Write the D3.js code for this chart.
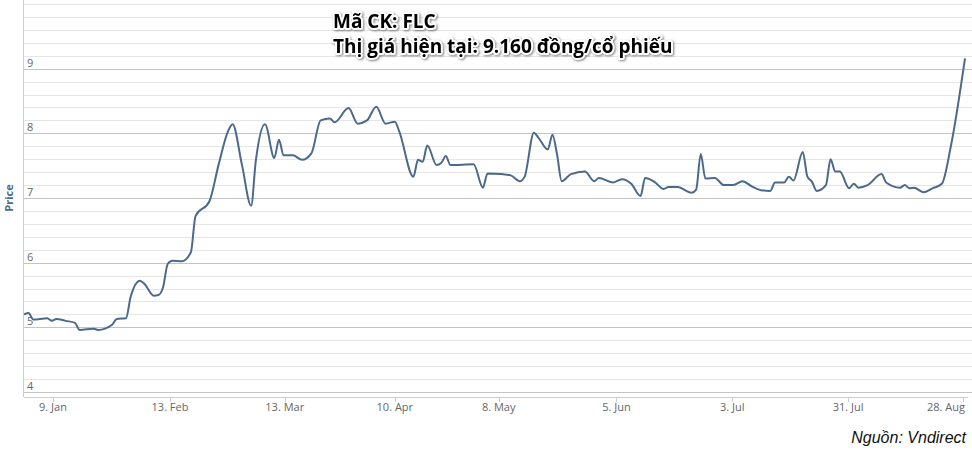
<!DOCTYPE html>
<html><head><meta charset="utf-8">
<script src="https://cdn.jsdelivr.net/npm/d3@7"></script>
<style>body{margin:0;background:#fff}svg{display:block}</style>
</head><body><svg id="c" width="972" height="458"></svg>
<script>
// trading-session index and closing price (thousand VND)
const sessions = [0,1,2,5,6,7,9,11,12,15,16,19,20,22,23,25,26,28,29,30,31,32,34,36,37,40,42,44,45,47,49,50,52,54,55,56,58,60,62,64,66,67,70,72,74,76,78,80,81,84,85,86,87,89,90,91,92,97,99,100,103,105,107,108,110,111,113,114,115,116,118,121,123,124,127,129,131,133,134,136,138,139,141,144,145,146,147,149,151,153,155,157,159,161,162,164,165,166,168,169,170,171,173,174,175,176,178,179,180,182,185,186,189,190,191,192,194,196,198,200,203];
const prices = [5.20,5.22,5.12,5.14,5.10,5.13,5.10,5.07,4.96,4.98,4.96,5.04,5.13,5.14,5.47,5.72,5.67,5.49,5.50,5.62,5.98,6.03,6.02,6.16,6.72,6.95,7.52,8.03,8.14,7.52,6.88,7.57,8.14,7.62,7.90,7.66,7.66,7.59,7.69,8.20,8.23,8.17,8.39,8.15,8.20,8.41,8.15,8.18,8.02,7.33,7.59,7.56,7.81,7.51,7.54,7.65,7.51,7.52,7.16,7.38,7.37,7.35,7.26,7.33,8.01,7.93,7.75,7.98,7.67,7.26,7.37,7.41,7.26,7.31,7.24,7.29,7.22,7.03,7.31,7.25,7.14,7.17,7.17,7.08,7.13,7.68,7.30,7.31,7.20,7.20,7.26,7.18,7.12,7.11,7.24,7.24,7.33,7.27,7.71,7.33,7.25,7.11,7.20,7.60,7.41,7.41,7.15,7.22,7.16,7.20,7.37,7.24,7.16,7.20,7.15,7.16,7.09,7.15,7.22,7.82,9.16];
const tickSessions = [6.25,31.5,56.25,80,102.4,127.8,152.8,177.8,202.6];
const tickLabels = ["9. Jan","13. Feb","13. Mar","10. Apr","8. May","5. Jun","3. Jul","31. Jul","28. Aug"];
const yTicks = [4,5,6,7,8,9];
const title1 = "Mã CK: FLC", title2 = "Thị giá hiện tại: 9.160 đồng/cổ phiếu", source = "Nguồn: Vndirect";

const svg = d3.select("#c");
const x = d3.scaleLinear().domain([0,203]).range([24,965]);
const y = d3.scaleLinear().domain([4,10]).range([392,4]);
const font = "'Open Sans', 'DejaVu Sans', sans-serif";

// minor grid
svg.append("g").selectAll("line").data(d3.range(40,101,2).map(v=>v/10).filter(v=>!yTicks.includes(v)))
 .join("line").attr("x1",24).attr("x2",972).attr("y1",d=>Math.round(y(d))+0.5).attr("y2",d=>Math.round(y(d))+0.5)
 .attr("stroke","#e6e6e6");
// major grid
svg.append("g").selectAll("line").data(yTicks).join("line")
 .attr("x1",24).attr("x2",972).attr("y1",d=>Math.round(y(d))+0.5).attr("y2",d=>Math.round(y(d))+0.5).attr("stroke","#c4c4c4");
svg.append("g").selectAll("text").data(yTicks).join("text")
 .attr("x",27).attr("y",d=>y(d)-2).text(d=>d).attr("font-family",font).attr("font-size",11).attr("fill","#666");
// axes lines
svg.append("line").attr("x1",23.5).attr("x2",23.5).attr("y1",0).attr("y2",397).attr("stroke","#c0d0e0");
svg.append("line").attr("x1",24).attr("x2",968).attr("y1",397.5).attr("y2",397.5).attr("stroke","#c0d0e0");
const xa = svg.append("g");
xa.selectAll("line").data(tickSessions).join("line").attr("x1",d=>Math.round(x(d))+0.5).attr("x2",d=>Math.round(x(d))+0.5)
 .attr("y1",397).attr("y2",402).attr("stroke","#c0d0e0");
xa.selectAll("text").data(tickSessions).join("text").attr("x",(d,i)=>i===tickSessions.length-1?Math.min(x(d),946):x(d)).attr("y",411)
 .attr("text-anchor","middle").text((d,i)=>tickLabels[i]).attr("font-family",font).attr("font-size",11).attr("fill","#666");
// y label
svg.append("text").attr("transform","translate(13,198) rotate(-90)").attr("text-anchor","middle")
 .text("Price").attr("font-family",font).attr("font-size",11).attr("font-weight","bold").attr("fill","#4d6d8a");
// line
const data = sessions.map((s,i)=>[s,prices[i]]);
svg.append("path").datum(data).attr("fill","none").attr("stroke","#4b6a8b").attr("stroke-width",2)
 .attr("d",d3.line().x(d=>x(d[0])).y(d=>y(d[1])).curve(d3.curveMonotoneX));
// titles
[[title1,28],[title2,53]].forEach(([t,yy])=>{
 svg.append("text").attr("x",333).attr("y",yy).text(t).attr("font-family",font).attr("font-size",19).attr("font-weight","bold")
  .attr("fill","#000").attr("stroke","#fff").attr("stroke-width",4).attr("paint-order","stroke").attr("stroke-linejoin","round")
  .style("filter","drop-shadow(1px 1px 1px rgba(0,0,0,0.5))");
});
svg.append("text").attr("x",966).attr("y",443).attr("text-anchor","end").text(source)
 .attr("font-family","'Liberation Sans', Arial, sans-serif").attr("font-size",16).attr("font-style","italic").attr("fill","#111");
</script></body></html>
